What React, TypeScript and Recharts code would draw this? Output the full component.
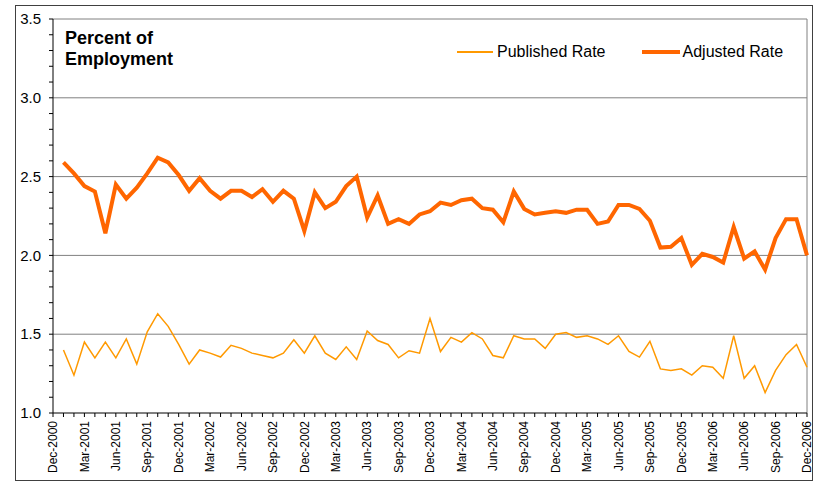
import { LineChart, Line, XAxis, YAxis, ReferenceLine } from "recharts";

const months = [
  "Dec-2000", "Jan-2001", "Feb-2001", "Mar-2001", "Apr-2001", "May-2001", "Jun-2001",
  "Jul-2001", "Aug-2001", "Sep-2001", "Oct-2001", "Nov-2001", "Dec-2001",
  "Jan-2002", "Feb-2002", "Mar-2002", "Apr-2002", "May-2002", "Jun-2002",
  "Jul-2002", "Aug-2002", "Sep-2002", "Oct-2002", "Nov-2002", "Dec-2002",
  "Jan-2003", "Feb-2003", "Mar-2003", "Apr-2003", "May-2003", "Jun-2003",
  "Jul-2003", "Aug-2003", "Sep-2003", "Oct-2003", "Nov-2003", "Dec-2003",
  "Jan-2004", "Feb-2004", "Mar-2004", "Apr-2004", "May-2004", "Jun-2004",
  "Jul-2004", "Aug-2004", "Sep-2004", "Oct-2004", "Nov-2004", "Dec-2004",
  "Jan-2005", "Feb-2005", "Mar-2005", "Apr-2005", "May-2005", "Jun-2005",
  "Jul-2005", "Aug-2005", "Sep-2005", "Oct-2005", "Nov-2005", "Dec-2005",
  "Jan-2006", "Feb-2006", "Mar-2006", "Apr-2006", "May-2006", "Jun-2006",
  "Jul-2006", "Aug-2006", "Sep-2006", "Oct-2006", "Nov-2006", "Dec-2006",
];

// only every third month gets a label
const tickLabels = [
  "Dec-2000", "Mar-2001", "Jun-2001", "Sep-2001", "Dec-2001", "Mar-2002", "Jun-2002",
  "Sep-2002", "Dec-2002", "Mar-2003", "Jun-2003", "Sep-2003", "Dec-2003", "Mar-2004",
  "Jun-2004", "Sep-2004", "Dec-2004", "Mar-2005", "Jun-2005", "Sep-2005", "Dec-2005",
  "Mar-2006", "Jun-2006", "Sep-2006", "Dec-2006",
];

const published = [
  null, 1.40, 1.24, 1.45, 1.35, 1.45, 1.35, 1.47, 1.31, 1.515, 1.63, 1.55, 1.435,
  1.31, 1.40, 1.38, 1.355, 1.43, 1.41, 1.38, 1.365, 1.35, 1.38, 1.465, 1.38,
  1.49, 1.38, 1.34, 1.42, 1.34, 1.52, 1.46, 1.435, 1.35, 1.395, 1.38, 1.60,
  1.39, 1.48, 1.45, 1.51, 1.47, 1.365, 1.35, 1.49, 1.47, 1.47, 1.41, 1.50,
  1.51, 1.48, 1.49, 1.47, 1.435, 1.49, 1.39, 1.355, 1.455, 1.28, 1.27, 1.28,
  1.24, 1.30, 1.29, 1.22, 1.49, 1.22, 1.30, 1.13, 1.27, 1.37, 1.435, 1.29,
];

const adjusted = [
  null, 2.59, 2.52, 2.44, 2.405, 2.14, 2.45, 2.36, 2.43, 2.52, 2.62, 2.59, 2.51,
  2.41, 2.49, 2.41, 2.36, 2.41, 2.41, 2.37, 2.42, 2.34, 2.41, 2.36, 2.155,
  2.40, 2.30, 2.34, 2.44, 2.50, 2.24, 2.38, 2.20, 2.23, 2.20, 2.26, 2.28,
  2.335, 2.32, 2.35, 2.36, 2.30, 2.29, 2.21, 2.405, 2.295, 2.26, 2.27, 2.28,
  2.27, 2.29, 2.29, 2.20, 2.215, 2.32, 2.32, 2.295, 2.22, 2.05, 2.055, 2.11,
  1.94, 2.01, 1.99, 1.955, 2.18, 1.98, 2.025, 1.91, 2.11, 2.23, 2.23, 2.0,
];

const yTicks = [
  1.0, 1.1, 1.2, 1.3, 1.4, 1.5, 1.6, 1.7, 1.8, 1.9, 2.0, 2.1, 2.2,
  2.3, 2.4, 2.5, 2.6, 2.7, 2.8, 2.9, 3.0, 3.1, 3.2, 3.3, 3.4, 3.5,
];
const yLabels = [1.0, 1.5, 2.0, 2.5, 3.0, 3.5];
const gridValues = [1.5, 2.0, 2.5, 3.0];

const data = months.map((m, i) => ({
  month: m,
  published: published[i],
  adjusted: adjusted[i],
}));

const FONT = "'Liberation Sans', Arial, sans-serif";
const PUB_COLOR = "#FF9900";
const ADJ_COLOR = "#FF6600";

function YTick(props: any) {
  const { x, y, payload } = props;
  const v = payload.value;
  if (!yLabels.some((l) => Math.abs(l - v) < 1e-6)) return null;
  return (
    <text x={x} y={y} dy="0.35em" textAnchor="end" fontSize={15} fontFamily={FONT} fill="#000">
      {v.toFixed(1)}
    </text>
  );
}

function XTick(props: any) {
  const { x, payload } = props;
  if (!tickLabels.includes(payload.value)) return null;
  return (
    <g transform={`translate(${x},421)`}>
      <text
        transform="rotate(-90)"
        textAnchor="end"
        dy="0.35em"
        fontSize={12}
        fontFamily={FONT}
        fill="#000"
      >
        {payload.value}
      </text>
    </g>
  );
}

export default function App() {
  return (
    <div style={{ position: "absolute", left: 0, top: 0, width: 818, height: 482, background: "#fff" }}>
      <div
        style={{
          position: "absolute",
          left: 15,
          top: 5,
          width: 798,
          height: 476,
          boxSizing: "border-box",
          border: "1px solid #404040",
        }}
      />
      <div style={{ position: "absolute", left: 0, top: 0 }}>
        <LineChart width={818} height={482} data={data} margin={{ top: 19, right: 11, bottom: 0, left: 13 }}>
          {gridValues.map((g) => (
            <ReferenceLine key={g} y={g} stroke="#808080" strokeWidth={1} />
          ))}
          <ReferenceLine y={3.5} stroke="#808080" strokeWidth={1} />
          <ReferenceLine x="Dec-2006" stroke="#808080" strokeWidth={1} />
          <XAxis
            dataKey="month"
            interval={0}
            height={69}
            tickSize={4}
            tick={<XTick />}
            axisLine={{ stroke: "#000" }}
            tickLine={{ stroke: "#000" }}
          />
          <YAxis
            width={40}
            domain={[1, 3.5]}
            ticks={yTicks}
            interval={0}
            tickSize={4}
            tickMargin={8}
            tick={<YTick />}
            axisLine={{ stroke: "#000" }}
            tickLine={{ stroke: "#000" }}
          />
          <Line
            type="linear"
            dataKey="published"
            stroke={PUB_COLOR}
            strokeWidth={1.5}
            dot={false}
            isAnimationActive={false}
          />
          <Line
            type="linear"
            dataKey="adjusted"
            stroke={ADJ_COLOR}
            strokeWidth={4}
            dot={false}
            isAnimationActive={false}
          />
        </LineChart>
      </div>
      <div
        style={{
          position: "absolute",
          left: 65,
          top: 28,
          fontFamily: FONT,
          fontWeight: "bold",
          fontSize: 18,
          lineHeight: "21px",
          color: "#000",
        }}
      >
        Percent of
        <br />
        Employment
      </div>
      <div
        style={{
          position: "absolute",
          left: 457,
          top: 43,
          height: 18,
          display: "flex",
          alignItems: "center",
          fontFamily: FONT,
          fontSize: 16,
          color: "#000",
          whiteSpace: "nowrap",
        }}
      >
        <span style={{ display: "inline-block", width: 36, height: 2, background: PUB_COLOR }} />
        <span style={{ marginLeft: 4 }}>Published Rate</span>
        <span style={{ display: "inline-block", width: 38, height: 4, background: ADJ_COLOR, marginLeft: 36 }} />
        <span style={{ marginLeft: 3 }}>Adjusted Rate</span>
      </div>
    </div>
  );
}
